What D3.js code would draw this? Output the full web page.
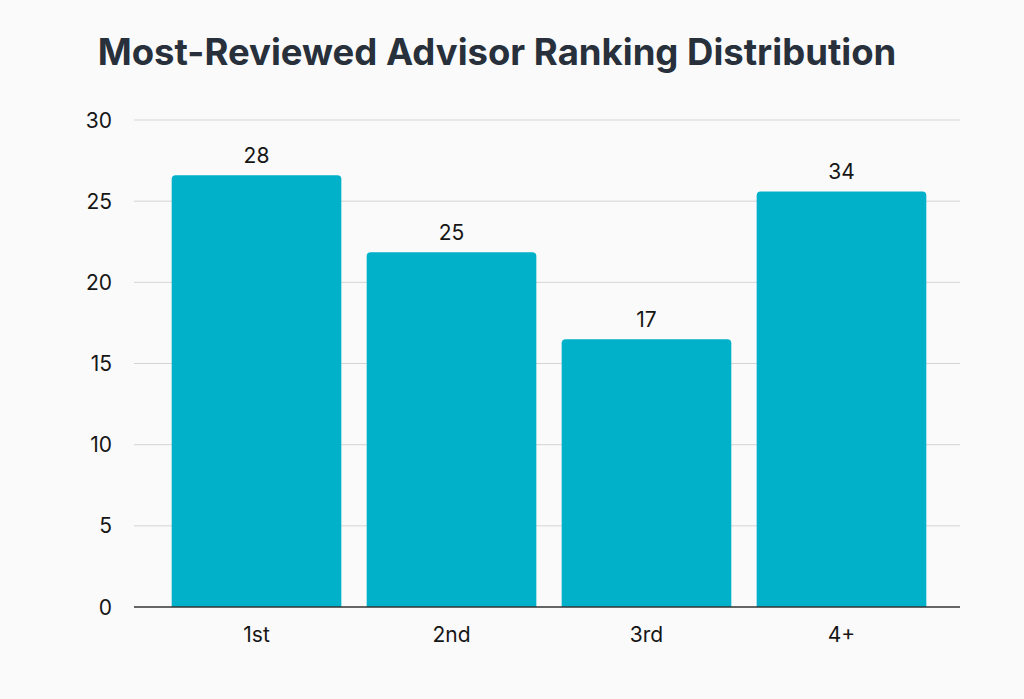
<!DOCTYPE html>
<head>
  <meta charset="UTF-8">
  <title>ranking</title>
  <style>
  body, html { margin: 0; padding: 0; background: #fafafa; }
  svg text { font-family: Inter, "Noto Sans", sans-serif; }
  </style>
</head>
<body>
  <script src="https://cdn.jsdelivr.net/npm/d3@7"></script>
  <script>
  // data
  var categories = ['1st', '2nd', '3rd', '4+'];
  var barValues = [26.6, 21.85, 16.5, 25.6];   // drawn heights
  var barLabels = ['28', '25', '17', '34'];     // printed numbers
  var yTicks = [0, 5, 10, 15, 20, 25, 30];

  var width = 1024, height = 699;
  var svg = d3.select('body').append('svg')
    .attr('width', width).attr('height', height);

  svg.append('rect').attr('width', width).attr('height', height).attr('fill', '#fafafa');

  var x = d3.scaleBand().domain(categories).range([160, 938])
    .paddingInner(0.13).paddingOuter(0.06);
  var y = d3.scaleLinear().domain([0, 30]).range([607, 120]);

  // title
  svg.append('text')
    .attr('x', 497).attr('y', 65)
    .attr('text-anchor', 'middle')
    .attr('font-size', 36.5).attr('font-weight', 700)
    .attr('fill', '#27303b')
    .text('Most-Reviewed Advisor Ranking Distribution');

  // grid
  svg.append('g').selectAll('line').data(yTicks.slice(1)).enter()
    .append('line')
    .attr('x1', 134).attr('x2', 960)
    .attr('y1', d => y(d)).attr('y2', d => y(d))
    .attr('stroke', '#d4d4d4').attr('stroke-width', 1);

  // y labels
  svg.append('g').selectAll('text').data(yTicks).enter()
    .append('text')
    .attr('x', 112).attr('y', d => y(d))
    .attr('dy', '0.36em')
    .attr('text-anchor', 'end')
    .attr('font-size', 21).attr('fill', '#161616')
    .text(d => d);

  // bars with rounded top corners
  var r = 4;
  function barPath(d, i){
    var x0 = x(categories[i]), w = x.bandwidth();
    var top = y(d), bot = y(0);
    return 'M' + x0 + ',' + bot +
      'V' + (top + r) + 'Q' + x0 + ',' + top + ' ' + (x0 + r) + ',' + top +
      'H' + (x0 + w - r) + 'Q' + (x0 + w) + ',' + top + ' ' + (x0 + w) + ',' + (top + r) +
      'V' + bot + 'Z';
  }
  svg.append('g').selectAll('path').data(barValues).enter()
    .append('path')
    .attr('d', barPath)
    .attr('fill', '#00b1c9');

  // value labels
  svg.append('g').selectAll('text').data(barValues).enter()
    .append('text')
    .attr('x', (d, i) => x(categories[i]) + x.bandwidth() / 2)
    .attr('y', d => y(d) - 12)
    .attr('text-anchor', 'middle')
    .attr('font-size', 21).attr('fill', '#161616')
    .text((d, i) => barLabels[i]);

  // baseline
  svg.append('line')
    .attr('x1', 134).attr('x2', 960)
    .attr('y1', y(0)).attr('y2', y(0))
    .attr('stroke', '#333').attr('stroke-width', 1.3);

  // x labels
  var xAxis = svg.append('g')
    .attr('transform', 'translate(0,' + y(0) + ')')
    .call(d3.axisBottom(x).tickSize(0).tickPadding(20));
  xAxis.select('.domain').remove();
  xAxis.selectAll('text')
    .attr('font-size', 21).attr('fill', '#161616')
    .attr('font-family', 'Inter, "Noto Sans", sans-serif');
  </script>
</body>
</html>
